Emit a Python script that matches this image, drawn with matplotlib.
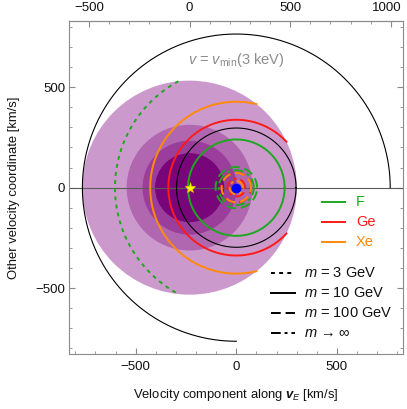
import numpy as np
import matplotlib
matplotlib.use("Agg")
import matplotlib.pyplot as plt
from matplotlib.ticker import MultipleLocator, FixedLocator
import matplotlib.transforms as transforms

plt.rcParams['font.family'] = ['Liberation Sans', 'DejaVu Sans']
plt.rcParams['mathtext.fontset'] = 'custom'
plt.rcParams['mathtext.rm'] = 'Liberation Sans'
plt.rcParams['mathtext.it'] = 'Liberation Sans:italic'
plt.rcParams['mathtext.bf'] = 'Liberation Sans:italic:bold'

# speeds in km/s
v_earth = 232
v_esc = 533
halo_radii = [533, 313, 234, 172]          # galactic disks, light -> dark
halo_colors = ['#cc99cc', '#b067b0', '#9b3e9b', '#78067a']

targets = ['F', 'Ge', 'Xe']
target_colors = ['#1ea81e', '#ff1a1a', '#ff8a0a']
# v_min(3 keV) radius per target for each mass (None = outside range)
vmin_3gev = [603, None, None]
vmin_10gev = [240, 338, 428]
vmin_100gev = [103, 74, 73]
vmin_inf = [87, 44, 33]

black_circle = 297
v_max_earth = 765

top_ticks = [-500, 0, 500]
top_last = 1000

mass_labels = ['$m$ = 3 GeV', '$m$ = 10 GeV', '$m$ = 100 GeV', '$m$ → ∞']
mass_styles = [(0, (2, 2.2)), '-', (0, (5, 2.5)), (0, (5, 2, 1.5, 2))]

fig = plt.figure(figsize=(4.07, 4.09), dpi=100)
ax = fig.add_axes([0.1703, 0.1337, 0.8206, 0.815])

theta = np.linspace(0, 2 * np.pi, 721)

for r, c in zip(halo_radii, halo_colors):
    ax.add_patch(plt.Circle((-v_earth, 0), r, color=c, lw=0, zorder=1))

ax.axhline(0, color='#5a5a5a', lw=0.8, zorder=2)


def arc(r):
    x = r * np.cos(theta)
    y = r * np.sin(theta)
    inside = np.hypot(x + v_earth, y) <= v_esc
    x = np.where(inside, x, np.nan)
    y = np.where(inside, y, np.nan)
    return x, y


for radii, ls in zip([vmin_3gev, vmin_10gev, vmin_100gev, vmin_inf], mass_styles):
    for r, c in zip(radii, target_colors):
        if r is None:
            continue
        x, y = arc(r)
        ax.plot(x, y, color=c, lw=1.4, ls=ls, zorder=4)

ax.plot(black_circle * np.cos(theta), black_circle * np.sin(theta),
        color='black', lw=0.8, zorder=3)
t_big = np.linspace(0, 1.5 * np.pi, 500)
ax.plot(v_max_earth * np.cos(t_big), v_max_earth * np.sin(t_big),
        color='black', lw=0.8, zorder=3)

ax.plot([0], [0], 'o', color='#0000ff', ms=6, zorder=6)
ax.plot([-v_earth], [0], '*', color='#ffff00', ms=8, mec='#e8d000', mew=0.5, zorder=6)

ax.text(0, 636, r'$v$ = $v_{\mathrm{min}}$(3 keV)', color='#8c8c8c',
        fontsize=10.5, ha='center', va='center')

# legends drawn by hand
for i, (name, c) in enumerate(zip(targets, target_colors)):
    yy = 0.456 - 0.06 * i
    ax.plot([0.756, 0.825], [yy, yy], color=c, lw=1.4, transform=ax.transAxes)
    ax.text(0.858, yy, name, color=c, fontsize=10.5, va='center',
            transform=ax.transAxes)
for i, (lab, ls) in enumerate(zip(mass_labels, mass_styles)):
    yy = 0.245 - 0.06 * i
    ax.plot([0.604, 0.676], [yy, yy], color='black', lw=1.4, ls=ls,
            transform=ax.transAxes)
    ax.text(0.703, yy, lab, color='#111111', fontsize=10.5, va='center',
            transform=ax.transAxes)

ax.set_xlim(-830, 830)
ax.set_ylim(-830, 830)

for s in ax.spines.values():
    s.set_color('#8a8a8a')
    s.set_linewidth(0.8)

ax.xaxis.set_major_locator(MultipleLocator(500))
ax.xaxis.set_minor_locator(MultipleLocator(100))
ax.yaxis.set_major_locator(MultipleLocator(500))
ax.yaxis.set_minor_locator(MultipleLocator(100))
ax.tick_params(which='both', direction='in', color='#8a8a8a', labelsize=9.5,
               labelcolor='#111111', right=True)
ax.tick_params(which='major', length=4, width=0.8)
ax.tick_params(which='minor', length=2.5, width=0.6)
ax.tick_params(axis='x', pad=5)
ax.tick_params(axis='y', pad=3)

top = ax.secondary_xaxis('top', functions=(lambda x: x + v_earth, lambda x: x - v_earth))
top.xaxis.set_major_locator(FixedLocator(top_ticks + [top_last]))
top.xaxis.set_minor_locator(MultipleLocator(100))
top.set_xticklabels([f'{t:g}'.replace('-', '\u2212') for t in top_ticks] + [''])
top.tick_params(which='both', direction='in', color='#8a8a8a', labelsize=9.5,
                labelcolor='#111111', pad=5)
top.tick_params(which='major', length=4, width=0.8)
top.tick_params(which='minor', length=2.5, width=0.6)
top.spines['top'].set_color('#8a8a8a')

# last top label kept inside the figure, as in the original
trans = transforms.blended_transform_factory(ax.transData, ax.transAxes)
ax.text(top_last - v_earth + 54, 1.0 + 7 / 333, f'{top_last}', transform=trans,
        ha='right', va='bottom', fontsize=9.5, color='#111111')

ax.set_xlabel(r'Velocity component along $\mathbf{v}_E$ [km/s]', fontsize=9.4,
              color='#111111', labelpad=10)
ax.set_ylabel('Other velocity coordinate [km/s]', fontsize=9.4,
              color='#111111', labelpad=11)

fig.savefig('out.png', dpi=100)
